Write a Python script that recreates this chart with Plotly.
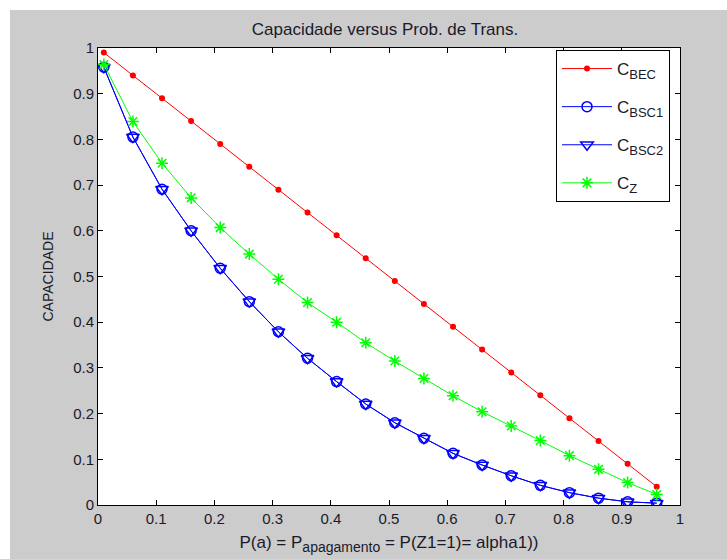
import plotly.graph_objects as go

p = [0.01, 0.06, 0.11, 0.16, 0.21, 0.26, 0.31, 0.36, 0.41, 0.46,
     0.51, 0.56, 0.61, 0.66, 0.71, 0.76, 0.81, 0.86, 0.91, 0.96]
c_bec = [0.99, 0.94, 0.89, 0.84, 0.79, 0.74, 0.69, 0.64, 0.59, 0.54,
         0.49, 0.44, 0.39, 0.34, 0.29, 0.24, 0.19, 0.14, 0.09, 0.04]
c_bsc1 = [0.958, 0.805, 0.691, 0.600, 0.518, 0.445, 0.379, 0.321, 0.270, 0.221,
          0.180, 0.146, 0.113, 0.0875, 0.064, 0.043, 0.027, 0.015, 0.007, 0.004]
c_bsc2 = list(c_bsc1)
c_z = [0.964, 0.839, 0.748, 0.672, 0.607, 0.549, 0.494, 0.443, 0.400, 0.355,
       0.315, 0.277, 0.239, 0.204, 0.173, 0.141, 0.108, 0.078, 0.049, 0.023]

tick_vals_x = [0, 0.1, 0.2, 0.3, 0.4, 0.5, 0.6, 0.7, 0.8, 0.9, 1]
tick_text_x = ["0", "0.1", "0.2", "0.3", "0.4", "0.5", "0.6", "0.7", "0.8", "0.9", "1"]
tick_vals_y = tick_vals_x
tick_text_y = tick_text_x

FONT = "Liberation Sans, Arial, sans-serif"
TXT = "#1a1a2a"


def sub(main, s, size=13):
    return f"{main}<sub><span style='font-size:{size}px'>{s}</span></sub>"


fig = go.Figure()
fig.add_trace(go.Scatter(x=p, y=c_bec, mode="lines+markers", name=sub("C", "BEC"),
                         legendgroup="a",
                         line=dict(color="#ff0000", width=1),
                         marker=dict(symbol="circle", size=6, color="#ff0000")))
fig.add_trace(go.Scatter(x=p, y=c_bsc1, mode="lines+markers", name=sub("C", "BSC1"),
                         legendgroup="b",
                         line=dict(color="#0000ff", width=1),
                         marker=dict(symbol="circle-open", size=10, color="#0000ff",
                                     line=dict(width=1.5, color="#0000ff"))))
fig.add_trace(go.Scatter(x=p, y=c_bsc2, mode="lines+markers", name=sub("C", "BSC2"),
                         legendgroup="c",
                         line=dict(color="#0000ff", width=1),
                         marker=dict(symbol="triangle-down-open", size=11, color="#0000ff",
                                     line=dict(width=1.5, color="#0000ff"))))
fig.add_trace(go.Scatter(x=p, y=c_z, mode="lines+markers", name=sub("C", "Z"),
                         legendgroup="d",
                         line=dict(color="#00ff00", width=1),
                         marker=dict(symbol="asterisk-open", size=10, color="#00ff00",
                                     line=dict(width=1.5, color="#00ff00"))))

axis_common = dict(showline=True, linecolor="black", linewidth=1, mirror="ticks",
                   ticks="inside", ticklen=5, tickcolor="black", showgrid=False,
                   zeroline=False, automargin=False,
                   tickfont=dict(family=FONT, size=15, color=TXT))

fig.update_layout(
    width=727, height=559,
    margin=dict(l=98, r=47, t=48, b=54),
    paper_bgcolor="#cccccc", plot_bgcolor="white",
    font=dict(family=FONT, color=TXT),
    title=dict(text="Capacidade versus Prob. de Trans.", x=385 / 727, xanchor="center",
               y=1 - 29 / 559, yanchor="middle", font=dict(family=FONT, size=17, color=TXT)),
    xaxis=dict(range=[0, 1], tickvals=tick_vals_x, ticktext=tick_text_x,
               title=dict(text="P(a) = " + sub("P", "apagamento", 14) + " = P(Z1=1)= alpha1))",
                          font=dict(family=FONT, size=17, color=TXT), standoff=10),
               **axis_common),
    yaxis=dict(range=[0, 1], tickvals=tick_vals_y, ticktext=tick_text_y,
               title=dict(text="CAPACIDADE", font=dict(family=FONT, size=14, color=TXT), standoff=16),
               **axis_common),
    legend=dict(x=(670 - 98) / 582, xanchor="right", y=(505 - 50) / 457, yanchor="top",
                bgcolor="white", bordercolor="black", borderwidth=1,
                font=dict(family=FONT, size=17, color=TXT),
                itemwidth=50, tracegroupgap=13, entrywidth=92),
    showlegend=True,
    shapes=[
        dict(type="rect", xref="paper", yref="paper",
             x0=-98 / 582, x1=-88 / 582, y0=-54 / 457, y1=505 / 457,
             fillcolor="white", line=dict(width=0), layer="below"),
        dict(type="rect", xref="paper", yref="paper",
             x0=-98 / 582, x1=629 / 582, y0=495 / 457, y1=505 / 457,
             fillcolor="white", line=dict(width=0), layer="below"),
    ],
)

fig.write_html("out.html")
